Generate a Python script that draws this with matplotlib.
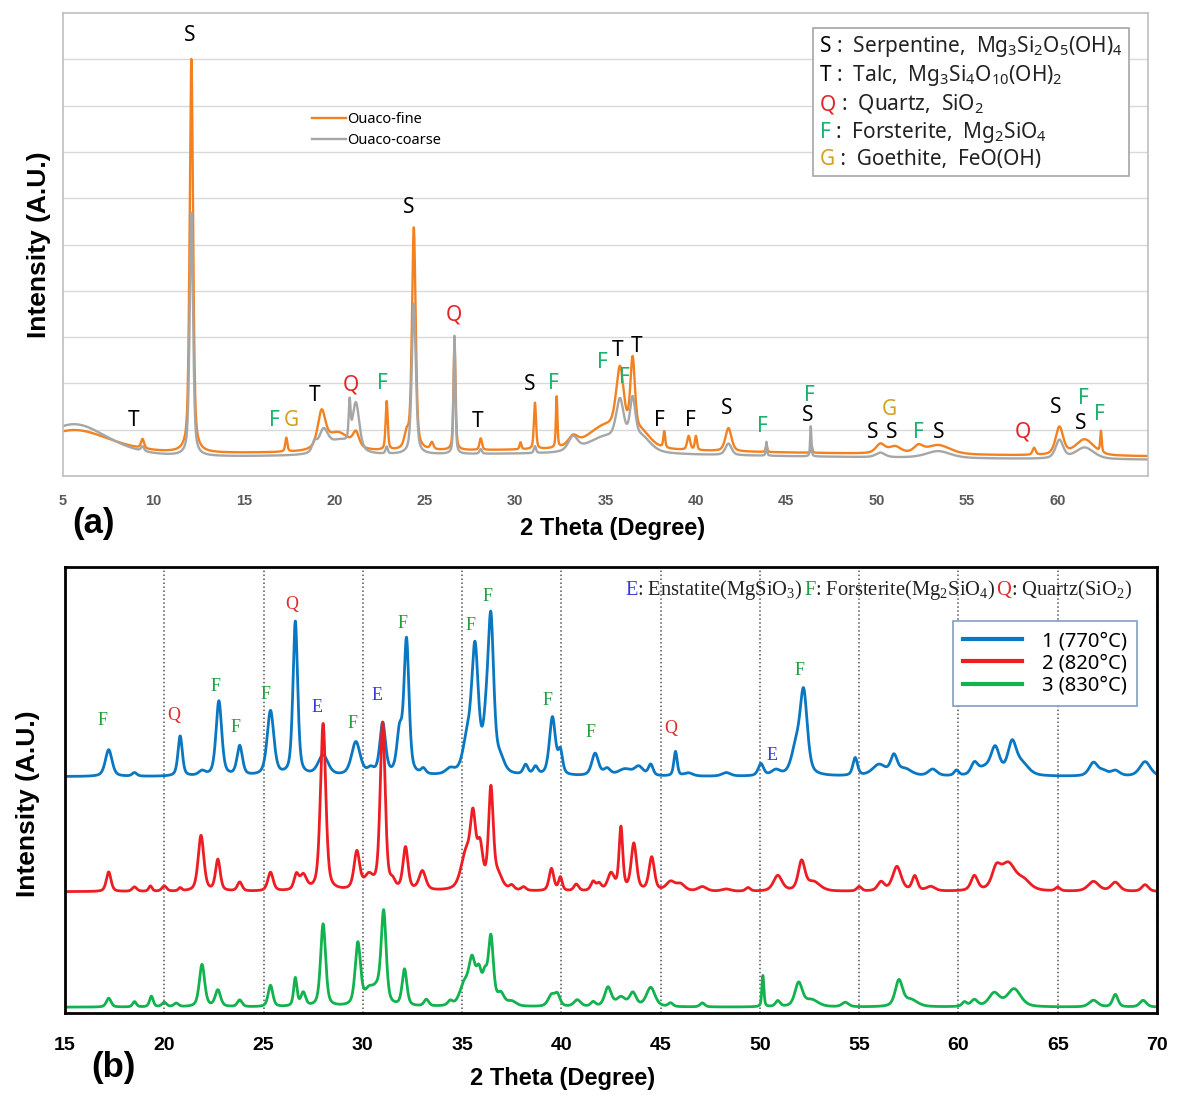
import matplotlib
matplotlib.use('Agg')
import matplotlib.pyplot as plt
import numpy as np
from matplotlib.offsetbox import TextArea, HPacker, VPacker, AnchoredOffsetbox

# ---------------- data: panel (a), peaks ----------------
# (centre 2theta, height above base, half width)
fine_base = 0.40
fine_peaks = [
    (5.6, 0.55, 2.5), (32.0, 0.15, 18.0),
    (9.4, 0.2, 0.1), (12.1, 8.5, 0.11), (17.35, 0.3, 0.07),
    (19.3, 0.75, 0.25), (20.2, 0.4, 0.8), (21.2, 0.3, 0.2),
    (22.9, 1.05, 0.07), (24.0, 0.3, 0.15), (24.4, 4.8, 0.12),
    (25.4, 0.15, 0.1), (26.65, 2.3, 0.07), (28.1, 0.25, 0.08),
    (30.3, 0.15, 0.06), (31.1, 1.0, 0.07), (32.3, 1.1, 0.05),
    (33.2, 0.2, 0.3), (35.0, 0.5, 1.2), (35.8, 1.4, 0.25),
    (36.5, 1.6, 0.15), (37.0, 0.3, 0.6), (38.25, 0.35, 0.06),
    (39.6, 0.3, 0.1), (40.0, 0.3, 0.07), (41.8, 0.5, 0.2),
    (43.9, 0.15, 0.05), (46.4, 0.15, 0.05), (50.2, 0.2, 0.3),
    (51.0, 0.15, 0.4), (52.3, 0.15, 0.3), (53.4, 0.2, 0.8),
    (58.7, 0.15, 0.1), (60.1, 0.6, 0.25), (61.5, 0.35, 0.6),
    (62.4, 0.45, 0.05),
]
coarse_base = 0.33
coarse_peaks = [
    (5.6, 0.75, 2.3), (32.0, 0.14, 18.0),
    (9.4, 0.1, 0.1), (12.1, 5.25, 0.11), (18.9, 0.2, 0.15),
    (19.4, 0.45, 0.3), (20.3, 0.3, 0.8), (20.85, 0.8, 0.06),
    (21.2, 1.0, 0.22), (22.9, 0.15, 0.07), (24.4, 3.25, 0.13),
    (26.65, 2.55, 0.06), (28.1, 0.1, 0.08), (31.1, 0.15, 0.07),
    (33.2, 0.3, 0.3), (35.0, 0.35, 1.2), (35.8, 0.9, 0.25),
    (36.5, 0.9, 0.18), (37.0, 0.3, 0.6), (41.8, 0.25, 0.2),
    (43.9, 0.3, 0.04), (46.35, 0.65, 0.04), (50.2, 0.1, 0.3),
    (53.4, 0.15, 0.8), (60.1, 0.4, 0.25), (61.5, 0.25, 0.6),
]
# phase letters of panel (a): (2theta, y, letter); 'f' = black F
labels_a = [
    (12.0, 9.52, 'S'), (24.1, 5.79, 'S'), (26.6, 3.48, 'Q'),
    (8.93, 1.21, 'T'), (16.7, 1.21, 'F'), (17.6, 1.21, 'G'),
    (18.9, 1.75, 'T'), (20.9, 1.97, 'Q'), (22.65, 2.0, 'F'),
    (27.9, 1.17, 'T'), (30.8, 1.97, 'S'), (32.1, 2.0, 'F'),
    (34.8, 2.46, 'F'), (35.65, 2.72, 'T'), (36.7, 2.79, 'T'),
    (36.05, 2.12, 'F'), (38.0, 1.21, 'f'), (39.7, 1.21, 'f'),
    (41.7, 1.45, 'S'), (43.7, 1.08, 'F'), (46.3, 1.75, 'F'),
    (46.2, 1.3, 'S'), (50.7, 1.43, 'G'), (49.8, 0.95, 'S'),
    (50.8, 0.95, 'S'), (52.3, 0.95, 'F'), (53.4, 0.95, 'S'),
    (58.1, 0.95, 'Q'), (59.9, 1.47, 'S'), (61.4, 1.68, 'F'),
    (61.3, 1.14, 'S'), (62.3, 1.32, 'F'),
]
phase_letters = ['S', 'T', 'Q', 'F', 'G']
phase_names = [' :  Serpentine,  Mg$_\\mathregular{3}$Si$_\\mathregular{2}$O$_\\mathregular{5}$(OH)$_\\mathregular{4}$',
               ' :  Talc,  Mg$_\\mathregular{3}$Si$_\\mathregular{4}$O$_\\mathregular{10}$(OH)$_\\mathregular{2}$',
               ' :  Quartz,  SiO$_\\mathregular{2}$',
               ' :  Forsterite,  Mg$_\\mathregular{2}$SiO$_\\mathregular{4}$',
               ' :  Goethite,  FeO(OH)']

# ---------------- data: panel (b) ----------------
s1_base = 53.0
s1_peaks = [
    (17.2, 6.0, 0.2), (18.5, 0.8, 0.14), (20.8, 9.0, 0.13), (21.9, 1.0, 0.2),
    (22.75, 16.8, 0.17), (23.8, 6.6, 0.16), (25.35, 14.5, 0.2), (26.6, 34.5, 0.14),
    (28.0, 4.5, 0.3), (29.65, 7.5, 0.26), (30.4, 1.3, 0.2), (31.0, 11.5, 0.17),
    (31.85, 9.0, 0.16), (32.2, 30.0, 0.15), (33.05, 1.2, 0.14), (34.4, 1.2, 0.26),
    (35.25, 7.0, 0.25), (35.65, 27.5, 0.2), (36.2, 8.0, 0.18), (36.45, 33.0, 0.17),
    (36.9, 3.0, 0.26), (38.2, 2.2, 0.14), (38.7, 1.8, 0.14), (39.55, 13.0, 0.18),
    (39.95, 5.0, 0.13), (41.7, 5.0, 0.2), (42.3, 1.5, 0.2), (43.2, 1.5, 0.4),
    (43.9, 2.0, 0.26), (44.5, 2.5, 0.14), (45.75, 5.5, 0.1), (46.4, 0.7, 0.26),
    (48.3, 0.8, 0.26), (50.05, 2.7, 0.16), (50.8, 1.2, 0.26), (51.8, 5.5, 0.26),
    (52.2, 18.5, 0.22), (54.8, 4.0, 0.14), (56.0, 2.5, 0.4), (56.75, 4.2, 0.2),
    (57.3, 1.5, 0.4), (58.7, 1.5, 0.26), (59.9, 1.2, 0.14), (60.8, 2.5, 0.2),
    (61.3, 1.5, 0.4), (61.85, 6.0, 0.26), (62.7, 7.0, 0.26), (63.2, 2.5, 0.4),
    (66.8, 3.0, 0.26), (67.3, 1.0, 0.26), (67.9, 1.2, 0.26), (69.4, 3.3, 0.32),
]
s2_base = 27.2
s2_peaks = [
    (17.2, 4.4, 0.14), (18.5, 1.0, 0.14), (19.3, 1.2, 0.1), (20.0, 1.2, 0.14),
    (20.8, 0.7, 0.1), (21.85, 12.5, 0.17), (22.7, 7.0, 0.14), (23.8, 2.0, 0.14),
    (25.35, 4.2, 0.16), (26.65, 3.3, 0.14), (27.0, 3.3, 0.2), (28.0, 37.5, 0.16),
    (29.7, 8.5, 0.17), (30.3, 3.0, 0.26), (31.0, 37.5, 0.15), (31.5, 1.5, 0.14),
    (32.15, 9.5, 0.15), (33.0, 4.3, 0.2), (35.2, 8.0, 0.3), (35.55, 14.0, 0.16),
    (35.9, 9.0, 0.17), (36.45, 22.0, 0.14), (36.8, 3.0, 0.26), (37.5, 1.0, 0.14),
    (38.1, 0.8, 0.14), (39.5, 5.0, 0.14), (39.95, 3.0, 0.11), (40.75, 1.5, 0.14),
    (41.6, 2.0, 0.14), (41.9, 1.5, 0.14), (42.5, 3.8, 0.2), (43.0, 14.0, 0.11),
    (43.65, 10.5, 0.16), (44.55, 7.5, 0.16), (45.5, 2.0, 0.26), (46.0, 1.5, 0.26),
    (47.1, 1.0, 0.26), (48.3, 0.5, 0.26), (49.4, 0.8, 0.14), (50.9, 3.5, 0.26),
    (52.1, 6.5, 0.2), (52.7, 2.0, 0.4), (55.0, 1.0, 0.14), (56.1, 2.0, 0.2),
    (56.9, 5.5, 0.26), (57.8, 3.3, 0.16), (58.6, 1.0, 0.26), (60.8, 3.3, 0.2),
    (61.9, 4.2, 0.26), (62.5, 6.0, 0.45), (63.3, 2.0, 0.4), (65.0, 0.8, 0.14),
    (66.8, 2.2, 0.32), (67.9, 2.0, 0.26), (69.4, 1.5, 0.2),
]
s3_base = 1.3
s3_peaks = [
    (17.2, 2.0, 0.14), (18.5, 1.2, 0.11), (19.35, 2.4, 0.11), (20.0, 1.0, 0.14),
    (20.6, 0.8, 0.14), (21.9, 9.5, 0.16), (22.7, 3.7, 0.16), (23.8, 1.5, 0.14),
    (25.35, 4.8, 0.14), (26.6, 6.3, 0.1), (27.0, 3.0, 0.14), (28.0, 18.5, 0.15),
    (29.75, 14.0, 0.16), (30.3, 3.0, 0.26), (30.7, 3.0, 0.26), (31.05, 20.5, 0.15),
    (32.1, 8.2, 0.14), (33.2, 1.5, 0.14), (34.4, 1.0, 0.14), (35.1, 4.5, 0.26),
    (35.5, 9.5, 0.2), (35.85, 6.5, 0.16), (36.15, 5.5, 0.14), (36.45, 15.0, 0.15),
    (36.95, 2.5, 0.2), (37.5, 1.0, 0.26), (39.5, 2.5, 0.2), (39.8, 2.5, 0.16),
    (40.8, 1.5, 0.2), (41.6, 1.0, 0.14), (42.35, 4.3, 0.2), (43.0, 2.0, 0.26),
    (43.6, 3.0, 0.2), (44.5, 4.3, 0.26), (45.5, 0.8, 0.14), (47.1, 0.9, 0.14),
    (50.15, 7.0, 0.06), (50.9, 1.3, 0.14), (51.95, 5.3, 0.22), (52.6, 1.5, 0.4),
    (54.3, 1.0, 0.2), (57.0, 5.8, 0.22), (57.6, 1.5, 0.4), (60.3, 1.0, 0.14),
    (60.8, 1.5, 0.2), (61.8, 3.0, 0.32), (62.8, 4.0, 0.4), (66.8, 1.5, 0.26),
    (67.9, 2.8, 0.16), (69.3, 1.5, 0.2),
]
series_b = ['1 (770°C)', '2 (820°C)', '3 (830°C)']
labels_b = [
    (16.9, 65.7, 'F'), (20.5, 66.6, 'Q'), (22.6, 73.3, 'F'), (23.6, 64.1, 'F'),
    (25.1, 71.5, 'F'), (26.4, 91.5, 'Q'), (27.7, 68.4, 'E'), (29.5, 65.0, 'F'),
    (30.7, 71.1, 'E'), (32.0, 87.4, 'F'), (35.4, 87.0, 'F'), (36.3, 93.3, 'F'),
    (39.3, 70.0, 'F'), (41.45, 63.0, 'F'), (45.5, 63.7, 'Q'), (50.6, 57.8, 'E'),
    (52.0, 76.7, 'F'),
]


def xrd(x, base, peaks):
    # pseudo-Voigt sum of the read peaks
    y = np.full_like(x, base)
    for c, h, w in peaks:
        d = (x - c) / w
        y += h * (0.5 / (1 + d ** 2) + 0.5 * np.exp(-np.log(2) * d ** 2))
    return y


sans = 'Noto Sans'
bold = 'Liberation Sans'
serif = 'Liberation Serif'

fig = plt.figure(figsize=(11.84, 11.06), dpi=100)

# ---------------- panel (a) ----------------
ax1 = fig.add_axes([0.0532, 0.5696, 0.9164, 0.4186])
xa = np.arange(5, 65.001, 0.01)
ax1.plot(xa, xrd(xa, fine_base, fine_peaks), color='#f4811f', lw=1.7, label='Ouaco-fine')
ax1.plot(xa, xrd(xa, coarse_base, coarse_peaks), color='#a6a6a6', lw=1.7, label='Ouaco-coarse')
ax1.set_xlim(5, 65)
ax1.set_ylim(0, 10)
ax1.set_yticks(np.arange(1, 10))
ax1.set_yticklabels([])
ax1.tick_params(axis='y', length=0)
ax1.grid(axis='y', color='#d9d9d9', lw=1)
ax1.set_axisbelow(True)
ax1.set_xticks(np.arange(5, 61, 5))
ax1.tick_params(axis='x', length=0, pad=13, labelsize=10.5, labelcolor='#595959')
for t in ax1.get_xticklabels():
    t.set_fontweight('bold')
    t.set_family(bold)
for s in ax1.spines.values():
    s.set_color('#bfbfbf')
    s.set_linewidth(1.2)

colors_a = {'S': 'black', 'T': 'black', 'f': 'black', 'Q': '#e3262b',
            'F': '#19b16e', 'G': '#d4a020'}
for x, y, l in labels_a:
    ax1.text(x, y, l.upper(), color=colors_a[l], fontsize=15, family=sans,
             ha='center', va='center')

ax1.legend(loc='upper left', bbox_to_anchor=(0.2175, 0.814), frameon=False,
           prop={'family': sans, 'size': 10.5}, handlelength=2.3,
           handletextpad=0.1, labelspacing=0.4, borderpad=0.4)

rows = []
for l, n in zip(phase_letters, phase_names):
    rows.append(HPacker(children=[
        TextArea(l, textprops=dict(color=colors_a[l], fontsize=15, family=sans)),
        TextArea(n, textprops=dict(color='#222222', fontsize=15, family=sans))],
        align='baseline', pad=0, sep=0))
box = AnchoredOffsetbox(loc='upper right', child=VPacker(children=rows, align='left', pad=0, sep=3),
                        bbox_to_anchor=(0.9825, 0.9676), bbox_transform=ax1.transAxes,
                        frameon=True, pad=0.45, borderpad=0)
box.patch.set_edgecolor('#a6a6a6')
box.patch.set_linewidth(1.2)
ax1.add_artist(box)

# ---------------- panel (b) ----------------
ax2 = fig.add_axes([0.0549, 0.0841, 0.9223, 0.4032])
xb = np.arange(15, 70.001, 0.01)
colors_b = ['#0a77c2', '#ee1d23', '#12b24e']
for (base, pk), c, lab in zip([(s1_base, s1_peaks), (s2_base, s2_peaks), (s3_base, s3_peaks)],
                              colors_b, series_b):
    ax2.plot(xb, xrd(xb, base, pk), color=c, lw=2.0, label=lab)
ax2.set_xlim(15, 70)
ax2.set_ylim(0, 100)
ax2.set_yticks([])
ax2.set_xticks(np.arange(15, 71, 5))
ax2.tick_params(axis='x', length=0, pad=17, labelsize=14)
for t in ax2.get_xticklabels():
    t.set_fontweight('bold')
    t.set_family(bold)
ax2.grid(axis='x', color='#555555', lw=1.1, linestyle=(0, (1, 1.6)))
for s in ax2.spines.values():
    s.set_color('black')
    s.set_linewidth(2)

colors_l = {'F': '#239c3c', 'Q': '#e32b2b', 'E': '#3a3ad8'}
for x, y, l in labels_b:
    ax2.text(x, y, l, color=colors_l[l], fontsize=13, family=serif,
             ha='center', va='center')

head = [('E', ': Enstatite(MgSiO$_\\mathregular{3}$) '),
        ('F', ': Forsterite(Mg$_\\mathregular{2}$SiO$_\\mathregular{4}$)'),
        ('Q', ': Quartz(SiO$_\\mathregular{2}$)')]
parts = []
for l, n in head:
    parts.append(TextArea(l, textprops=dict(color=colors_l[l], fontsize=14.8, family=serif)))
    parts.append(TextArea(n, textprops=dict(color='#222222', fontsize=14.8, family=serif)))
hbox = AnchoredOffsetbox(loc='center right', child=HPacker(children=parts, align='baseline', pad=0, sep=0),
                         bbox_to_anchor=(0.977, 0.948), bbox_transform=ax2.transAxes,
                         frameon=False, pad=0, borderpad=0)
ax2.add_artist(hbox)

leg = ax2.legend(loc='upper right', bbox_to_anchor=(0.9817, 0.879), fancybox=False,
                 framealpha=1, edgecolor='#7f9fc4', prop={'family': sans, 'size': 14.5},
                 handlelength=2.9, handletextpad=1.0, labelspacing=0.12, borderpad=0.5,
                 borderaxespad=0)
leg.get_frame().set_linewidth(1.2)
for ln in leg.get_lines():
    ln.set_linewidth(3)

# ---------------- axis titles ----------------
fig.text(39 / 1184, 1 - 245 / 1106, 'Intensity (A.U.)', rotation=90, ha='center', va='center',
         fontsize=19, fontweight='bold', family=bold)
fig.text(613 / 1184, 1 - 528 / 1106, '2 Theta (Degree)', ha='center', va='center',
         fontsize=17, fontweight='bold', family=bold)
fig.text(93 / 1184, 1 - 523 / 1106, '(a)', ha='center', va='center',
         fontsize=25, fontweight='bold', family=bold)
fig.text(28 / 1184, 1 - 804 / 1106, 'Intensity (A.U.)', rotation=90, ha='center', va='center',
         fontsize=19, fontweight='bold', family=bold)
fig.text(563 / 1184, 1 - 1078 / 1106, '2 Theta (Degree)', ha='center', va='center',
         fontsize=17, fontweight='bold', family=bold)
fig.text(113 / 1184, 1 - 1068 / 1106, '(b)', ha='center', va='center',
         fontsize=25, fontweight='bold', family=bold)

fig.savefig('out.png', dpi=100)
plt.close(fig)
